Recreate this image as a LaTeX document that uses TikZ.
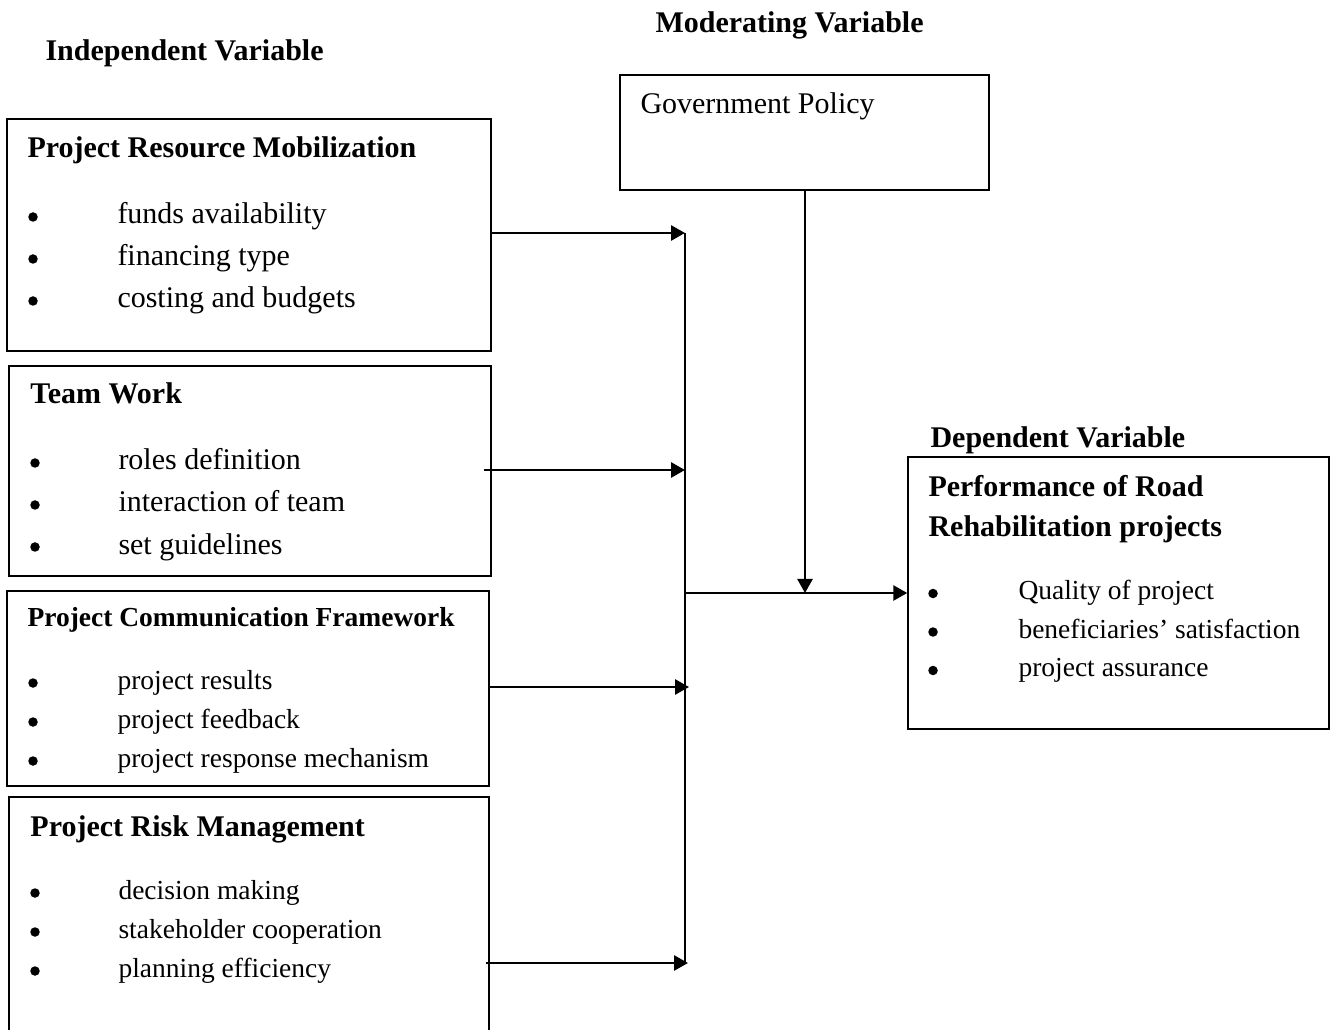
\documentclass[tikz,border=0pt]{standalone}
\usepackage{fontspec}
\setmainfont{Liberation Serif}
\usetikzlibrary{positioning,arrows.meta,fit}

\begin{document}
\begin{tikzpicture}[
  x=0.4pt, y=-0.4pt,
  font=\fontsize{12}{15.6}\selectfont,
  box/.style={draw, line width=0.6pt, inner sep=0pt},
  title/.style={font=\fontsize{12}{15.6}\selectfont\bfseries, anchor=base west, inner sep=0pt},
  head/.style={font=\fontsize{12}{15.6}\selectfont\bfseries, anchor=base west, inner sep=0pt},
  smallhead/.style={font=\fontsize{11}{14}\selectfont\bfseries, anchor=base west, inner sep=0pt},
  small/.style={font=\fontsize{11}{14}\selectfont},
  item/.style={anchor=base west, inner sep=0pt},
  bul/.style={circle, fill, inner sep=0pt, minimum size=3.8pt},
  arr/.style={-{Triangle[length=5.6pt,width=6pt]}, line width=1.1pt},
  link/.style={line width=0.8pt}
]
\useasboundingbox (0,0) rectangle (1330,1030);
\clip (0,0) rectangle (1330,1030);

% titles
\node[title] (indep) at (45,61) {Independent Variable};
\node[title] (moder) at (655,33) {Moderating Variable};
\node[title] (depen) at (930,448) {Dependent Variable};

% boxes
\node[box, fit={(7,119) (491,351)}] (resbox) {};
\node[box, fit={(9,366) (491,576)}] (teambox) {};
\node[box, fit={(7,591) (489,786)}] (commbox) {};
\node[box, fit={(9,797) (489,1040)}] (riskbox) {};
\node[box, fit={(620,75) (989,190)}] (govbox) {};
\node[box, fit={(908,457) (1329,729)}] (perfbox) {};

% box texts
\node[item] (gov) at (640,114) {Government Policy};

\node[head] (res) at (27,158) {Project Resource Mobilization};
\foreach \t [count=\i] in {funds availability, financing type, costing and budgets} {
  \node[bul] (resb\i) at (33,175+42*\i) {};
  \node[item] (resi\i) at (117,182+42*\i) {\t};
}

\node[head] (team) at (30,404) {Team Work};
\foreach \t [count=\i] in {roles definition, interaction of team, set guidelines} {
  \node[bul] (teamb\i) at (35,421+42*\i) {};
  \node[item] (teami\i) at (118,428+42*\i) {\t};
}

\node[smallhead] (comm) at (27,626) {Project Communication Framework};
\foreach \t [count=\i] in {project results, project feedback, project response mechanism} {
  \node[bul] (commb\i) at (33,644+39*\i) {};
  \node[item, small] (commi\i) at (117,650+39*\i) {\t};
}

\node[head] (risk) at (30,836) {Project Risk Management};
\foreach \t [count=\i] in {decision making, stakeholder cooperation, planning efficiency} {
  \node[bul] (riskb\i) at (35,854+39*\i) {};
  \node[item, small] (riski\i) at (118,860+39*\i) {\t};
}

\node[head] (perf1) at (928,497) {Performance of Road};
\node[head] (perf2) at (928,536) {Rehabilitation projects};
\foreach \t [count=\i] in {Quality of project, beneficiaries’ satisfaction, project assurance} {
  \node[bul] (perfb\i) at (933,555+38.5*\i) {};
  \node[item, small] (perfi\i) at (1018,561+38.5*\i) {\t};
}

% junctions
\coordinate (jtop) at (685,233);
\coordinate (jteam) at (685,470);
\coordinate (jcomm) at (689,687);
\coordinate (jrisk) at (688,963);
\coordinate (jbot) at (685,963);
\coordinate (jmid) at (685,593);
\coordinate (jgov) at (805,593);

% arrows
\draw[link] (jtop) -- (jbot);
\draw[arr] (resbox.east |- jtop) -- (jtop);
\draw[arr] ([xshift=-3.2pt]teambox.east |- jteam) -- (jteam);
\draw[arr] ([xshift=-0.8pt]commbox.east |- jcomm) -- (jcomm);
\draw[arr] ([xshift=-1.6pt]riskbox.east |- jrisk) -- (jrisk);
\draw[arr] (jmid) -- (perfbox.west |- jmid);
\draw[arr] (govbox.south -| jgov) -- (jgov);

\end{tikzpicture}
\end{document}
